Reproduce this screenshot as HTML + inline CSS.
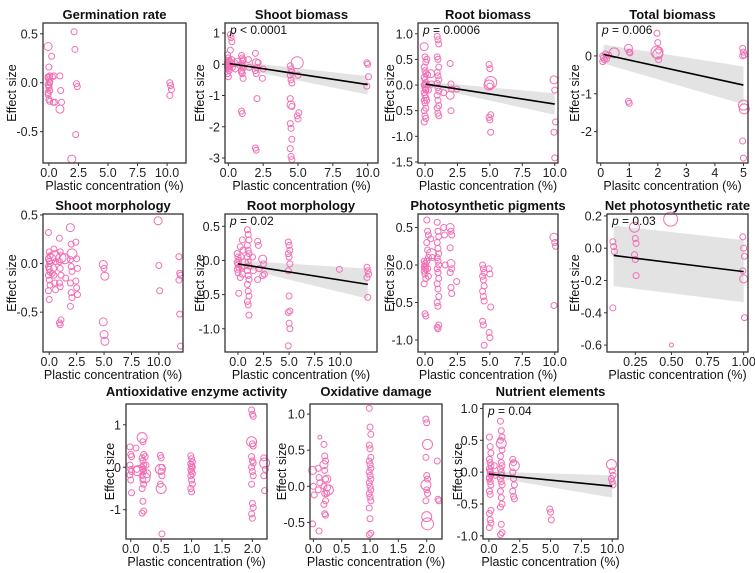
<!DOCTYPE html>
<html><head><meta charset="utf-8"><style>
html,body{margin:0;padding:0;background:#fff}
svg{display:block;font-family:"Liberation Sans",Arial,sans-serif}
</style></head><body>
<svg id="fig" width="755" height="573" viewBox="0 0 755 573" xmlns="http://www.w3.org/2000/svg"></svg>
<script>
// ---- data: x columns and y values ([y, r] for larger points) ----
const germX=[0,0.3,0.5,1,2,2.2,2.4,10.3];
const germY=[[[0.37,4],0.16,0.07,0.05,0.03,0,-0.02,-0.05,-0.08,-0.12,-0.17,-0.19,0.06,-0.03,0.01,-0.1],[0.27,0.06,-0.2],[0.07,-0.2],[0.07,-0.08,-0.2,[-0.27,4]],[[-0.78,4]],[0.52,0.34,-0.53],[-0.01,-0.04],[0,-0.03,-0.07,-0.13]];

const shootX=[0,0.1,0.2,0.3,0.5,0.7,1,1.5,2,2.2,2.5,4.5,5,10];
const shootY=[[0.3,0.2,0.12,0.05,0,-0.05,-0.1,-0.15,-0.2,-0.3,-0.4,0.08,-0.02,-0.08],[0.1,-0.05,[0.02,4]],[0.95,0.85,0.72,0.45],[0.15,-0.1],[0.05,-0.15],[0.1],[0.28,0.2,0.1,0.02,-0.05,-0.12,-0.2,-0.3,-0.45,-1.5,-1.58,0.15,-0.25],[0.15,-0.1],[0.35,[0.05,4],-0.1,-0.2,-0.3,-1.1,-2.68,-2.75],[0.05],[-0.45,-0.15],[-0.05,-0.15,-0.25,-0.35,-0.5,-0.6,-1.1,[-1.3,4],-1.35,-1.9,-2.05,-2.4,-2.7,-2.95,-3.05],[[0.05,6],-0.35,-1.55,-1.65,-1.75],[0.05,0,-0.4,-0.7]];

const rootX=[0,0.2,0.5,1,1.5,2,2.5,5,10];
const rootY=[[[0.75,4],0.55,0.45,0.35,0.28,0.22,0.15,0.1,0.05,0,-0.05,-0.1,-0.15,-0.2,-0.25,-0.3,-0.35,-0.45,-0.5,-0.6,-0.65,-0.72,0.02,-0.08],[0.5,0.2,-0.1,-0.3],[[0.22,4],0.02],[0.95,0.88,0.8,0.55,0.5,0.35,0.25,0.18,0.1,0.03,-0.05,-0.12,-0.2,-0.3,-0.4,-0.45,-0.55,-0.6],[-0.15],[0.42,0.02,-0.08,[-0.2,4],-0.5],[-0.08],[0.4,0.32,[0.05,6],[0,5],-0.02,-0.58,-0.63,-0.68,-0.92],[[0.1,4],-0.1,-0.72,-0.92,-1.42]];

const totalX=[0.1,0.2,0.3,0.5,1,2,5];
const totalY=[[0,-0.05,-0.1,-0.15],[0.05,-0.08],[0.02],[[0.08,5]],[[0.2,4],0.1,0.08,-1.2,-1.25],[0.6,0.35,0.15,[0.1,6],[0.05,5],-0.1],[0.2,0.1,0.02,0,[-1.3,5],[-1.4,5],-2.25,-2.7]];

const smorphX=[0,0.2,0.5,1,1.5,2,2.5,5,10,11.9];
const smorphY=[[0.32,0.12,0.08,0.05,0.02,0,-0.03,-0.06,-0.09,-0.12,-0.17,-0.22,-0.28,-0.37],[[0.05,5],[-0.05,5],-0.1],[0.15,[0.08,5],0.02,-0.12,-0.2,-0.27],[0.26,0.12,[0.06,5],0.02,-0.05,-0.12,-0.2,-0.24,-0.58,-0.61,-0.63],[[0.05,5],-0.15],[[0.37,4],0.2,[0.1,5],0.04,-0.03,-0.08,-0.2,-0.3,-0.35,-0.44],[0.22,0.05,-0.05,-0.18,-0.25,-0.32],[[-0.01,4],-0.05,[-0.13,4],[-0.6,4],[-0.73,4],[-0.8,4]],[[0.44,4],-0.02,-0.28],[0.07,-0.1,-0.12,-0.17,-0.52,-0.85]];

const rmorphX=[0,0.3,0.5,1,1.5,2,2.5,5,10,12.7];
const rmorphY=[[0.1,0.05,0,-0.03,-0.06,-0.1,-0.13,-0.18,-0.48],[0.2,0.05,-0.1,-0.25],[0.3,0.15,[-0.05,5],-0.2],[0.45,0.38,0.3,0.22,0.15,0.1,0.05,-0.02,-0.08,-0.15,-0.22,-0.28,-0.35,-0.45,-0.52,-0.6,-0.65,-0.8],[0.05,-0.15],[0.28,0.22,-0.12,-0.28],[[0.02,4],-0.05,-0.2,-0.22],[0.27,0.22,0.15,0.1,0.05,-0.05,-0.15,-0.52,-0.74,-0.76,-0.92,-1.0,-1.25],[-0.13],[-0.1,-0.15,-0.2,-0.25,-0.54]];

const pigX=[0,0.2,0.5,1,1.5,2,2.5,4.5,5,10];
const pigY=[[0.05,0.02,0,-0.02,-0.04,-0.06,-0.08,-0.12,-0.18,-0.25,-0.65,-0.68],[0.6,0.45,0.4,0.3,0.2,0.1,0.05,-0.05,-0.15],[0.35,[0.15,5],0.1],[0.57,0.45,0.38,0.3,0.22,0.15,0.1,0.05,0,-0.05,-0.1,-0.18,-0.25,-0.32,-0.42,-0.5,-0.55,-0.8,-0.83,-0.85],[0.5,0.4,0],[[0.5,4],0.45,0.4,0.23,[0.02,4],-0.05,-0.1,-0.3,-0.38],[-0.22],[0,-0.05,-0.1,-0.15,-0.2,-0.28,-0.35,-0.42,-0.48,-0.75,-0.8,-1.07],[-0.05,-0.12,-0.56,-0.9,-0.97],[[0.37,4],0.3,0.25,-0.54]];

const netX=[0.1,0.25,0.5,1];
const netY=[[0.04,0.01,-0.02,-0.37],[[0.13,5],0.06,0.03,-0.04,-0.07,-0.17],[[0.18,7],[-0.6,2]],[0.07,0,-0.05,-0.14,[-0.19,4],-0.43]];

const antiX=[0,0.1,0.2,0.25,0.5,1,2,2.2];
const antiY=[[0.48,0.3,0.25,0.05,-0.05,-0.1,-0.18,-0.3,-0.6],[0.45,-0.05,[-0.08,5]],[[0.7,5],0.6,0.3,0.22,0.15,0.05,0,-0.05,-0.1,-0.2,-0.3,-0.4,-0.5,-0.8,-1.03,-1.08],[0.25,0.05,[-0.15,4],[-0.25,5]],[0.28,0.22,0,[-0.05,5],-0.1,-0.2,-0.4,[-0.5,5],-1.57],[0.27,0.2,0.12,0.08,0.03,0,-0.05,-0.1,-0.15,-0.2,-0.3,-0.4,-0.5,-0.58],[1.35,1.25,1.2,[0.6,5],0.55,0.5,0.25,0.15,0.1,0,-0.1,-0.2,-0.4,-0.85,-0.95,-1.1,-1.2],[0.22,[0.1,5],-0.05,-0.2,-0.55]];

const oxiX=[0,0.1,0.2,0.25,1,2,2.2];
const oxiY=[[[0.22,4],0,-0.12,-0.52],[0.25,0.12,0.05,-0.05,-0.62,[0.68,2]],[0.58,0.42,0.35,[0.3,4],0.22,0.1,0,-0.1,-0.2,-0.25,-0.38,-0.4],[[0.1,4],-0.02,[-0.05,5],-0.1],[1.08,0.82,0.72,0.57,0.52,0.4,0.35,0.3,0.25,0.2,0.15,0.1,0.05,0,-0.05,-0.1,-0.15,-0.2,-0.3,-0.45,-0.65,-0.67],[0.93,0.88,[0.58,5],0.4,0.15,0.1,[0.02,5],-0.05,-0.1,-0.2,[-0.42,5],[-0.52,6]],[0.35,-0.18,-0.2]];

const nutX=[0.1,0.5,1,2,5,10];
const nutY=[[0.55,0.4,0.3,0.2,0.15,0.1,0.05,0,-0.05,-0.1,-0.15,-0.2,-0.3,-0.35,-0.6,-0.65,-0.75,-0.8,-0.87,0.02,-0.03,-0.08],[0.1,-0.05],[0.8,0.65,0.55,0.5,[0.45,5],0.35,0.25,0.15,0.1,0.05,0,-0.05,-0.1,-0.15,-0.2,-0.3,-0.4,-0.5,-0.55,-0.82,-0.95,-0.98],[0.2,0.15,[0.1,5],0,-0.1,-0.2,-0.3,-0.38,-0.42],[-0.58,-0.63,-0.75],[[0.12,5],0.02,-0.05,-0.1,-0.15,-0.2]];

// regression [x0,y0,x1,y1] and band [lo0,hi0,lo1,hi1]
const shootFit=[0.1,0.02,10,-0.65], shootBand=[-0.08,0.12,-0.97,-0.38];
const rootFit=[0.05,0.02,10,-0.37], rootBand=[-0.03,0.07,-0.58,-0.16];
const totalFit=[0.1,0.04,5,-0.77], totalBand=[-0.2,0.3,-1.28,-0.28];
const rmorphFit=[0,-0.05,12.7,-0.35], rmorphBand=[-0.1,0.0,-0.56,-0.12];
const netFit=[0.1,-0.045,1,-0.145], netBand=[-0.235,0.14,-0.335,0.05];
const nutFit=[0,-0.03,10,-0.22], nutBand=[-0.07,0.01,-0.4,-0.05];

const panels=[
 {name:'germination-rate',title:'Germination rate',L:43,R:186,T:23,B:163,xd:[-0.5,11.6],yd:[-0.82,0.61],xt:[0,2.5,5,7.5,10],xf:1,yt:[-0.5,0,0.5],yf:1,X:germX,Y:germY,yx:12,xl:'Plastic concentration (%)'},
 {name:'shoot-biomass',title:'Shoot biomass',L:225,R:378,T:23,B:163,xd:[-0.24,10.74],yd:[-3.16,1.32],xt:[0,2.5,5,7.5,10],xf:1,yt:[-3,-2,-1,0,1],yf:0,X:shootX,Y:shootY,yx:200,p:'< 0.0001',fit:shootFit,band:shootBand,xl:'Plastic concentration (%)'},
 {name:'root-biomass',title:'Root biomass',L:418,R:558,T:23,B:163,xd:[-0.54,10.25],yd:[-1.52,1.21],xt:[0,2.5,5,7.5,10],xf:1,yt:[-1.5,-1,-0.5,0,0.5,1],yf:1,X:rootX,Y:rootY,yx:390,p:'= 0.0006',fit:rootFit,band:rootBand,xl:'Plastic concentration (%)'},
 {name:'total-biomass',title:'Total biomass',L:597,R:748,T:23,B:163,xd:[-0.13,5.16],yd:[-2.83,0.87],xt:[0,1,2,3,4,5],xf:0,yt:[-2,-1,0],yf:0,X:totalX,Y:totalY,yx:575,p:'= 0.006',fit:totalFit,band:totalBand,xl:'Plasitc concentration (%)'},
 {name:'shoot-morphology',title:'Shoot morphology',L:43,R:183,T:214,B:352,xd:[-0.57,12.2],yd:[-0.91,0.51],xt:[0,2.5,5,7.5,10],xf:1,yt:[-0.5,0,0.5],yf:1,X:smorphX,Y:smorphY,yx:12,xl:'Plastic concentration (%)'},
 {name:'root-morphology',title:'Root morphology',L:225,R:377,T:214,B:352,xd:[-1.27,13.6],yd:[-1.34,0.68],xt:[0,2.5,5,7.5,10],xf:1,yt:[-1,-0.5,0,0.5],yf:1,X:rmorphX,Y:rmorphY,yx:200,p:'= 0.02',fit:rmorphFit,band:rmorphBand,xl:'Plastic concentration (%)'},
 {name:'photosynthetic-pigments',title:'Photosynthetic pigments',L:418,R:558,T:214,B:352,xd:[-0.54,10.25],yd:[-1.16,0.68],xt:[0,2.5,5,7.5,10],xf:1,yt:[-1,-0.5,0,0.5],yf:1,X:pigX,Y:pigY,yx:390,xl:'Plastic concentration (%)'},
 {name:'net-photosynthetic-rate',title:'Net photosynthetic rate',L:607,R:748,T:214,B:352,xd:[0.054,1.03],yd:[-0.643,0.212],xt:[0.25,0.5,0.75,1],xf:2,yt:[-0.6,-0.4,-0.2,0,0.2],yf:1,X:netX,Y:netY,yx:575,p:'= 0.03',fit:netFit,band:netBand,xl:'Plastic concentration (%)'},
 {name:'antioxidative-enzyme-activity',title:'Antioxidative enzyme activity',L:126,R:267,T:404,B:539,xd:[-0.078,2.24],yd:[-1.69,1.49],xt:[0,0.5,1,1.5,2],xf:1,yt:[-1,0,1],yf:0,X:antiX,Y:antiY,yx:110,xl:'Plastic concentration (%)'},
 {name:'oxidative-damage',title:'Oxidative damage',L:310,R:442,T:404,B:539,xd:[-0.06,2.27],yd:[-0.73,1.14],xt:[0,0.5,1,1.5,2],xf:1,yt:[-0.5,0,0.5,1],yf:1,X:oxiX,Y:oxiY,yx:282,xl:'Plastic concentration (%)'},
 {name:'nutrient-elements',title:'Nutrient elements',L:483,R:618,T:404,B:539,xd:[-0.48,10.47],yd:[-1.05,1.07],xt:[0,2.5,5,7.5,10],xf:1,yt:[-1,-0.5,0,0.5,1],yf:1,X:nutX,Y:nutY,yx:458,p:'= 0.04',fit:nutFit,band:nutBand,xl:'Plastic concentration (%)'}
];

const NS='http://www.w3.org/2000/svg';
const svg=document.getElementById('fig');
function mk(tag,attrs,parent){const e=document.createElementNS(NS,tag);for(const k in attrs)e.setAttribute(k,attrs[k]);parent.appendChild(e);return e;}

panels.forEach(P=>{
  const g=mk('g',{},svg);
  
  
  const sx=v=>P.L+(v-P.xd[0])/(P.xd[1]-P.xd[0])*(P.R-P.L);
  const sy=v=>P.B-(v-P.yd[0])/(P.yd[1]-P.yd[0])*(P.B-P.T);
  const t=mk('text',{x:(P.L+P.R)/2,y:P.T-(P.T>400?8:4),'text-anchor':'middle','font-size':'13','font-weight':'bold',fill:'#111'},g);
  t.textContent=P.title;
  
  
  if(P.band){
    const b=mk('polygon',{points:`${sx(P.fit[0])},${sy(P.band[1])} ${sx(P.fit[2])},${sy(P.band[3])} ${sx(P.fit[2])},${sy(P.band[2])} ${sx(P.fit[0])},${sy(P.band[0])}`,fill:'#e3e3e3'},g);
    
    
  }
  P.X.forEach((xv,i)=>{
    P.Y[i].forEach((yv,j)=>{
      const y=Array.isArray(yv)?yv[0]:yv, r=Array.isArray(yv)?yv[1]:3;
      const c=mk('circle',{cx:sx(xv)+((j%3)-1)*0.8,cy:sy(y),r:r,fill:'none',stroke:'#f26fb4','stroke-width':'1'},g);
      
      
    });
  });
  if(P.fit){
    const l=mk('line',{x1:sx(P.fit[0]),y1:sy(P.fit[1]),x2:sx(P.fit[2]),y2:sy(P.fit[3]),stroke:'#000','stroke-width':'1.6'},g);
    
    
    const pt=mk('text',{x:P.L+5,y:P.T+11,'font-size':'12',fill:'#111'},g);
    pt.innerHTML='<tspan font-style="italic">p</tspan> '+P.p;
    
    
  }
  const box=mk('rect',{x:P.L,y:P.T,width:P.R-P.L,height:P.B-P.T,fill:'none',stroke:'#333','stroke-width':'1.3'},g);
  
  
  P.xt.forEach(v=>{
    const x=sx(v);
    mk('line',{x1:x,x2:x,y1:P.B,y2:P.B+3,stroke:'#333'},g);
    const tl=mk('text',{x:x,y:P.B+14,'text-anchor':'middle','font-size':'12.5',fill:'#222'},g);
    tl.textContent=v.toFixed(P.xf);
    
    
  });
  P.yt.forEach(v=>{
    const y=sy(v);
    mk('line',{x1:P.L-3,x2:P.L,y1:y,y2:y,stroke:'#333'},g);
    const tl=mk('text',{x:P.L-5,y:y+4.5,'text-anchor':'end','font-size':'12.5',fill:'#222'},g);
    tl.textContent=v.toFixed(P.yf);
    
    
  });
  const xl=mk('text',{x:(P.L+P.R)/2,y:P.B+27,'text-anchor':'middle','font-size':'12.5',fill:'#111'},g);
  xl.textContent=P.xl;
  
  
  const yl=mk('text',{x:P.yx,y:(P.T+P.B)/2,'text-anchor':'middle','font-size':'12.5',fill:'#111',transform:`rotate(-90 ${P.yx} ${(P.T+P.B)/2})`,dy:'4'},g);
  yl.textContent='Effect size';
  
  
});
</script>
</body></html>
